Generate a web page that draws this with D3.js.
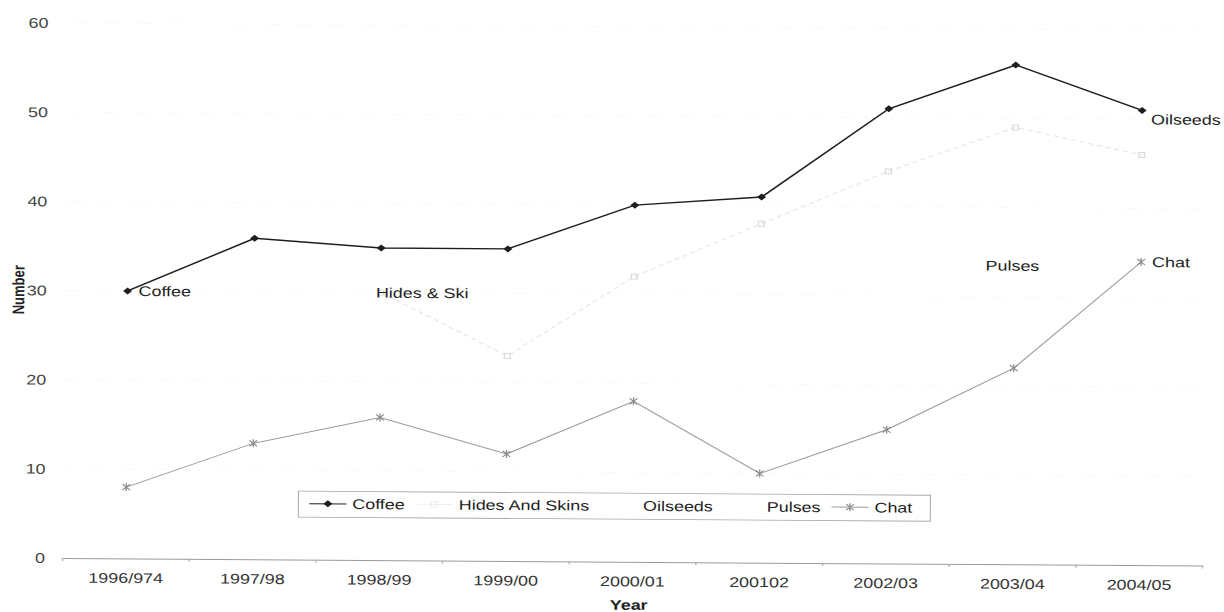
<!DOCTYPE html>
<html>
<head>
<meta charset="utf-8">
<script src="https://cdn.jsdelivr.net/npm/d3@7"></script>
<style>
  html, body { margin: 0; padding: 0; background: #ffffff; }
  svg { display: block; }
  text { font-family: "Liberation Sans", Arial, sans-serif; }
</style>
</head>
<body>
<svg id="chart" width="1224" height="612"></svg>
<script>
// Years on the category axis
const categories = ["1996/974", "1997/98", "1998/99", "1999/00", "2000/01", "200102", "2002/03", "2003/04", "2004/05"];

// Series values (number per year)
const coffee        = [30, 36, 35, 35, 40, 41, 51, 56, 51];
const hidesAndSkins = [null, null, 30, 23, 32, 38, 44, 49, 46];
const chat          = [8, 13, 16, 12, 18, 10, 15, 22, 34];

// Value-axis ticks
const yTicks = [0, 10, 20, 30, 40, 50, 60];

// Legend entries
const legendNames = ["Coffee", "Hides And Skins", "Oilseeds", "Pulses", "Chat"];

// Series-name labels placed beside points
const labelTexts      = ["Coffee", "Hides & Ski", "Oilseeds", "Pulses", "Chat"];
const labelCategories = ["1996/974", "1998/99", "2004/05", "2003/04", "2004/05"];
const labelValues     = [30, 30, 50, 33.5, 34];

// ---------------------------------------------------------------------------
const SX = 1.28;          // horizontal stretch of the whole drawing
const TILT = 0.38;        // slight clockwise tilt (degrees)
const X0 = 62.5, X1 = 1202.5, Y0 = 558, Y60 = 23;

const svg = d3.select("#chart");
const root = svg.append("g")
  .attr("transform", `rotate(${TILT},60,558) scale(${SX},1)`);

const x = d3.scaleBand().domain(categories).range([X0 / SX, X1 / SX]).padding(0);
const cx = c => x(c) + x.bandwidth() / 2;
const y = d3.scaleLinear().domain([0, 60]).range([Y0, Y60]);

// faint horizontal gridlines
root.append("g").selectAll("line")
  .data(yTicks.filter(t => t > 0))
  .join("line")
  .attr("x1", X0 / SX).attr("x2", X1 / SX)
  .attr("y1", d => y(d)).attr("y2", d => y(d))
  .attr("stroke", "#f5f5f5").attr("stroke-width", 1)
  .attr("stroke-dasharray", "2,3");

// category axis
const xAxis = d3.axisBottom(x).tickSize(0).tickPadding(0).tickFormat(d => d);
const gx = root.append("g").attr("transform", `translate(0,${Y0})`).call(xAxis);
gx.select(".domain").attr("stroke", "#9a9a9a").attr("stroke-width", 1);
gx.selectAll(".tick text")
  .attr("y", 24.5).attr("dy", 0)
  .attr("font-size", 14).attr("fill", "#333")
  .attr("font-family", "Liberation Sans, Arial, sans-serif");
// tick marks between categories
gx.append("g").selectAll("line")
  .data(d3.range(categories.length + 1))
  .join("line")
  .attr("x1", i => X0 / SX + i * x.bandwidth())
  .attr("x2", i => X0 / SX + i * x.bandwidth())
  .attr("y1", 0).attr("y2", 3)
  .attr("stroke", "#b0b0b0");

// value axis (labels only)
const yAxis = d3.axisLeft(y).tickValues(yTicks).tickSize(0).tickPadding(0);
const gy = root.append("g").attr("transform", `translate(${45 / SX},0)`).call(yAxis);
gy.select(".domain").remove();
gy.selectAll(".tick text")
  .attr("font-size", 14).attr("fill", "#444")
  .attr("font-family", "Liberation Sans, Arial, sans-serif");

// axis titles
root.append("text")
  .attr("x", 629 / SX).attr("y", 606)
  .attr("text-anchor", "middle")
  .attr("font-size", 14).attr("font-weight", "bold").attr("fill", "#222")
  .text("Year");
root.append("text")
  .attr("transform", `translate(${22.5 / SX},290) rotate(-90)`)
  .attr("text-anchor", "middle")
  .attr("font-size", 13).attr("font-weight", "bold").attr("fill", "#222")
  .text("Number");

// marker shapes
const diamond = "M0,-3.5L3.5,0L0,3.5L-3.5,0Z";
const square = "M-2.3,-2.5H2.3V2.5H-2.3Z";
const asterisk = "M-3,-3L3,3M-3,3L3,-3M0,-4V4";

const line = d3.line()
  .defined(d => d.v !== null)
  .x(d => cx(d.c))
  .y(d => y(d.v));

function drawSeries(values, opts) {
  const pts = values.map((v, i) => ({ c: categories[i], v }));
  const g = root.append("g");
  g.append("path")
    .datum(pts)
    .attr("d", line)
    .attr("fill", "none")
    .attr("stroke", opts.stroke)
    .attr("stroke-width", opts.width)
    .attr("stroke-dasharray", opts.dash || null);
  g.selectAll("path.mk")
    .data(pts.filter(d => d.v !== null))
    .join("path")
    .attr("class", "mk")
    .attr("transform", d => `translate(${cx(d.c)},${y(d.v)})`)
    .attr("d", opts.marker)
    .attr("fill", opts.fill)
    .attr("stroke", opts.markStroke)
    .attr("stroke-width", 1);
}

drawSeries(hidesAndSkins, { stroke: "#e3e3e3", width: 1, dash: "4,3", marker: square, fill: "none", markStroke: "#dadada" });
drawSeries(chat, { stroke: "#9a9a9a", width: 1, marker: asterisk, fill: "none", markStroke: "#8a8a8a" });
drawSeries(coffee, { stroke: "#1e1e1e", width: 1.4, marker: diamond, fill: "#1e1e1e", markStroke: "none" });

// series-name labels
const labelData = labelTexts.map((t, i) => ({ t, c: labelCategories[i], v: labelValues[i] }));
const anchorMode = ["start", "start", "start", "middle", "start"];
const offsetX = [11, -5, 9, -2, 11];
root.append("g").selectAll("text")
  .data(labelData)
  .join("text")
  .attr("x", (d, i) => cx(d.c) + offsetX[i] / SX)
  .attr("y", d => y(d.v) + 5)
  .attr("text-anchor", (d, i) => anchorMode[i])
  .attr("font-size", 14).attr("fill", "#222")
  .text(d => d.t);

// legend
const legend = root.append("g");
const boxLeft = 298 / SX, boxTop = 489.5, boxW = 632 / SX, boxH = 26;
legend.append("rect")
  .attr("x", boxLeft).attr("y", boxTop).attr("width", boxW).attr("height", boxH)
  .attr("fill", "#fff").attr("stroke", "#a8a8a8").attr("stroke-width", 0.8);

const legendStyles = [
  { stroke: "#1e1e1e", marker: diamond, fill: "#1e1e1e", mk: "none" },
  { stroke: "#efefef", marker: square, fill: "none", mk: "#eeeeee" },
  null,
  null,
  { stroke: "#9a9a9a", marker: asterisk, fill: "none", mk: "#8a8a8a" }
];
let lx = 309 / SX;
const ly = 502;
legendNames.forEach((name, i) => {
  const st = legendStyles[i];
  if (st) {
    legend.append("line")
      .attr("x1", lx).attr("x2", lx + 37 / SX)
      .attr("y1", ly).attr("y2", ly)
      .attr("stroke", st.stroke).attr("stroke-width", 1);
    legend.append("path")
      .attr("transform", `translate(${lx + 18.5 / SX},${ly})`)
      .attr("d", st.marker).attr("fill", st.fill).attr("stroke", st.mk);
  }
  const t = legend.append("text")
    .attr("x", lx + 43 / SX).attr("y", ly + 5)
    .attr("font-size", 14).attr("fill", "#222")
    .text(name);
  lx = lx + 43 / SX + t.node().getComputedTextLength() + 11 / SX;
});
</script>
</body>
</html>
